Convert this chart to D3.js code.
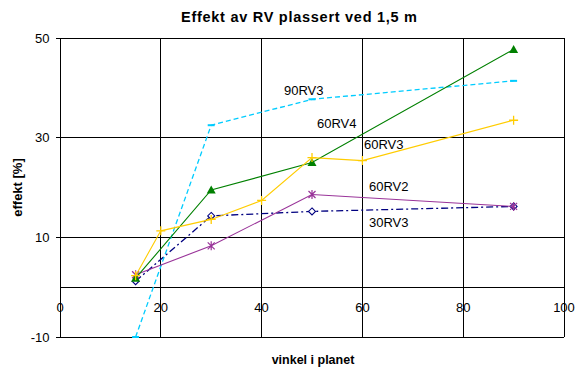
<!DOCTYPE html>
<html><head><meta charset="utf-8">
<script src="https://cdn.jsdelivr.net/npm/d3@7"></script>
<style>body{margin:0;background:#fff}svg{display:block}text{font-family:"Liberation Sans",Arial,sans-serif;fill:#000}</style>
</head><body>
<script>
const title = "Effekt av RV plassert ved 1,5 m";
const xLabel = "vinkel i planet";
const yLabel = "effekt [%]";
const xTicks = [0, 20, 40, 60, 80, 100];
const yTicks = [-10, 10, 30, 50];

const x90RV3 = [15, 30, 50, 90];
const y90RV3 = [-10, 32.5, 37.7, 41.4];
const x60RV4 = [15, 30, 50, 90];
const y60RV4 = [1.8, 19.5, 25.0, 47.7];
const x60RV3 = [15, 20, 30, 40, 50, 60, 90];
const y60RV3 = [2.3, 11.3, 13.6, 17.4, 26.0, 25.4, 33.5];
const x60RV2 = [15, 30, 50, 90];
const y60RV2 = [2.5, 8.3, 18.6, 16.2];
const x30RV3 = [15, 30, 50, 90];
const y30RV3 = [1.2, 14.3, 15.2, 16.2];

const series = [
  {name:"30RV3", xs:x30RV3, ys:y30RV3, color:"#000080", dash:"7,3,2,3", marker:"diamond", lx:369, ly:227},
  {name:"90RV3", xs:x90RV3, ys:y90RV3, color:"#00CCFF", dash:"5,3", marker:"dash", lx:284, ly:95},
  {name:"60RV2", xs:x60RV2, ys:y60RV2, color:"#993399", dash:null, marker:"star", lx:369, ly:191},
  {name:"60RV4", xs:x60RV4, ys:y60RV4, color:"#008000", dash:null, marker:"triangle", lx:317, ly:128},
  {name:"60RV3", xs:x60RV3, ys:y60RV3, color:"#FFCC00", dash:null, marker:"plus", lx:364, ly:149}
];

const W = 575, H = 369;
const svg = d3.select("body").append("svg").attr("width", W).attr("height", H);
const x = d3.scaleLinear().domain([0, 100]).range([60, 564]);
const y = d3.scaleLinear().domain([-10, 50]).range([337, 38]);

const grid = svg.append("g").attr("stroke", "#000").attr("stroke-width", 1).attr("shape-rendering", "crispEdges");
grid.selectAll("line.v").data(xTicks).join("line")
  .attr("x1", d => x(d)).attr("x2", d => x(d)).attr("y1", y(-10)).attr("y2", y(50));
grid.selectAll("line.h").data(yTicks).join("line")
  .attr("x1", x(0) - 4).attr("x2", x(100)).attr("y1", d => y(d)).attr("y2", d => y(d));
grid.append("line").attr("x1", x(0)).attr("x2", x(100)).attr("y1", y(0)).attr("y2", y(0));
grid.selectAll("line.xt").data(xTicks).join("line")
  .attr("x1", d => x(d)).attr("x2", d => x(d)).attr("y1", y(0) - 4).attr("y2", y(0) + 4);

svg.append("g").selectAll("text").data(yTicks).join("text")
  .attr("x", 49.5).attr("y", d => y(d) + 4.5).attr("text-anchor", "end")
  .style("font-size", "13px").text(d => d);
svg.append("g").selectAll("text").data(xTicks).join("text")
  .attr("x", d => x(d)).attr("y", 312).attr("text-anchor", "middle")
  .style("font-size", "13px").text(d => d);

svg.append("text").attr("x", 181).attr("y", 22).attr("textLength", 236).attr("lengthAdjust", "spacing")
  .style("font-size", "14.5px").style("font-weight", "bold").text(title);
svg.append("text").attr("x", 313).attr("y", 364).attr("text-anchor", "middle")
  .style("font-size", "12.5px").style("font-weight", "bold").text(xLabel);
svg.append("text").attr("transform", "translate(22,187.5) rotate(-90)").attr("text-anchor", "middle")
  .style("font-size", "13px").style("font-weight", "bold").text(yLabel);

const line = d3.line().x(d => x(d[0])).y(d => y(d[1]));
series.forEach(s => {
  const pts = s.xs.map((v, i) => [v, s.ys[i]]);
  const g = svg.append("g");
  g.append("path").attr("d", line(pts)).attr("fill", "none").attr("stroke", s.color)
    .attr("stroke-width", s.dash ? 1.3 : 1.1).attr("stroke-dasharray", s.dash);
  const m = g.selectAll("g").data(pts).join("g").attr("transform", d => `translate(${x(d[0])},${y(d[1])})`);
  if (s.marker === "triangle") {
    m.append("path").attr("d", "M0,-4.5L4.5,3.5L-4.5,3.5Z").attr("fill", s.color);
  } else if (s.marker === "plus") {
    m.append("path").attr("d", "M-4.5,0H4.5M0,-4.5V4.5").attr("stroke", s.color).attr("stroke-width", 1.3);
  } else if (s.marker === "star") {
    m.append("path").attr("d", "M-3.5,-3.5L3.5,3.5M-3.5,3.5L3.5,-3.5M0,-4.5V4.5").attr("stroke", s.color).attr("stroke-width", 1.2);
  } else if (s.marker === "diamond") {
    m.append("path").attr("d", "M0,-3.5L3.5,0L0,3.5L-3.5,0Z").attr("fill", "#fff").attr("stroke", s.color).attr("stroke-width", 1.1);
  } else if (s.marker === "dash") {
    m.append("path").attr("d", "M-3.5,0H3.5").attr("stroke", s.color).attr("stroke-width", 2);
  }
  svg.append("text").attr("x", s.lx).attr("y", s.ly).style("font-size", "13px").text(s.name);
});
</script>
</body></html>
